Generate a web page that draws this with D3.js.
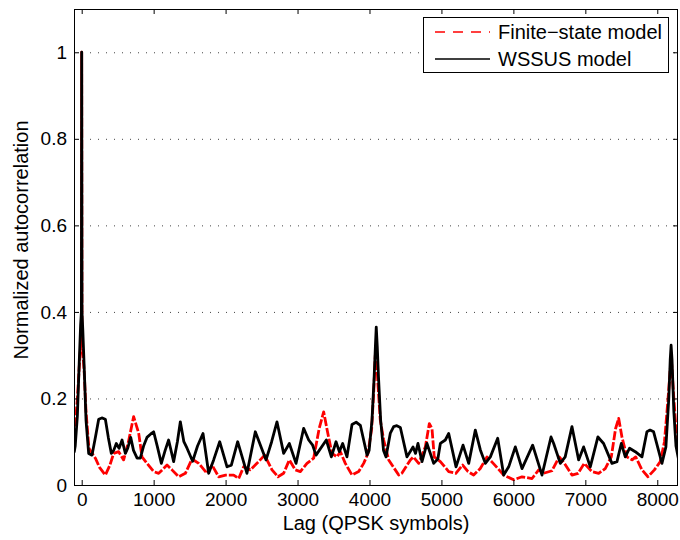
<!DOCTYPE html>
<html>
<head>
<meta charset="utf-8">
<script src="https://cdn.jsdelivr.net/npm/d3@7"></script>
<style>
  html, body { margin: 0; padding: 0; background: #fff; }
  svg { display: block; font-family: "Liberation Sans", Arial, Helvetica, sans-serif; }
</style>
</head>
<body>
<svg id="chart" width="680" height="540"></svg>
<script>
// ---- data ----
const xTicks = [0, 1000, 2000, 3000, 4000, 5000, 6000, 7000, 8000];
const yTicks = [0, 0.2, 0.4, 0.6, 0.8, 1];
const yTickLabels = ["0", "0.2", "0.4", "0.6", "0.8", "1"];
const seriesNames = ["Finite\u2212state model", "WSSUS model"];

const wssusLag = [-105,-90,-60,-35,-15,-4,0,4,15,35,60,97,143,190,236,280,329,370,412,445,481,520,561,607,640,681,720,770,815,860,907,960,1000,1050,1107,1160,1208,1278,1330,1371,1420,1464,1542,1610,1686,1765,1834,1918,2020,2080,2168,2297,2413,2562,2640,2714,2807,2886,2979,3085,3155,3210,3257,3400,3470,3535,3581,3627,3687,3757,3815,3873,3966,3995,4035,4065,4082,4094,4108,4125,4155,4195,4230,4290,4336,4380,4429,4521,4605,4640,4674,4730,4799,4892,4950,4985,5054,5101,5203,5300,5379,5471,5541,5610,5680,5782,5865,5935,6027,6120,6268,6398,6523,6560,6652,6720,6814,6907,6976,7069,7175,7254,7370,7440,7500,7555,7615,7694,7787,7856,7900,7949,8065,8120,8160,8180,8192,8205,8230,8260,8297];
const wssusVal = [0.075,0.09,0.16,0.28,0.37,0.40,1.0,0.40,0.36,0.27,0.15,0.073,0.069,0.11,0.152,0.155,0.152,0.11,0.073,0.08,0.096,0.085,0.104,0.073,0.085,0.11,0.08,0.062,0.062,0.09,0.11,0.118,0.123,0.09,0.05,0.08,0.104,0.054,0.1,0.146,0.1,0.085,0.055,0.09,0.119,0.027,0.058,0.1,0.042,0.046,0.1,0.027,0.123,0.058,0.1,0.146,0.073,0.096,0.05,0.131,0.104,0.092,0.069,0.104,0.065,0.1,0.077,0.096,0.065,0.14,0.145,0.138,0.069,0.08,0.15,0.25,0.32,0.365,0.32,0.25,0.15,0.08,0.065,0.12,0.135,0.137,0.133,0.065,0.088,0.073,0.096,0.054,0.096,0.05,0.06,0.096,0.104,0.119,0.042,0.092,0.05,0.127,0.081,0.05,0.065,0.108,0.023,0.042,0.088,0.038,0.092,0.023,0.111,0.096,0.05,0.065,0.135,0.058,0.088,0.042,0.111,0.096,0.05,0.054,0.096,0.065,0.085,0.077,0.065,0.123,0.127,0.123,0.05,0.088,0.2,0.29,0.323,0.29,0.17,0.09,0.058];

const finiteLag = [-105,-60,-35,-15,-4,0,4,15,35,60,100,190,250,329,390,444,514,583,650,722,792,838,907,1000,1070,1186,1255,1348,1441,1533,1626,1741,1811,1904,2000,2112,2182,2251,2344,2436,2543,2645,2728,2807,2886,2969,3039,3131,3224,3300,3363,3420,3479,3548,3595,3664,3757,3850,3919,3979,4030,4060,4081,4096,4115,4150,4197,4267,4406,4450,4568,4610,4684,4776,4832,4869,4900,4985,5101,5200,5295,5370,5448,5540,5633,5720,5865,6004,6120,6259,6352,6420,6536,6638,6710,6814,6900,6985,7092,7185,7277,7361,7420,7463,7510,7578,7650,7700,7787,7870,7960,8042,8100,8150,8181,8200,8230,8260,8290];
const finiteVal = [0.11,0.2,0.27,0.32,0.33,1.0,0.33,0.31,0.26,0.17,0.085,0.062,0.04,0.023,0.045,0.073,0.077,0.058,0.1,0.158,0.12,0.065,0.05,0.031,0.027,0.046,0.035,0.019,0.027,0.06,0.05,0.027,0.046,0.019,0.023,0.023,0.015,0.042,0.035,0.05,0.069,0.035,0.019,0.027,0.058,0.035,0.031,0.05,0.062,0.13,0.169,0.12,0.073,0.065,0.077,0.05,0.023,0.031,0.05,0.073,0.13,0.22,0.30,0.30,0.24,0.15,0.104,0.058,0.023,0.027,0.058,0.065,0.05,0.088,0.142,0.13,0.065,0.054,0.031,0.027,0.046,0.031,0.023,0.038,0.065,0.05,0.023,0.012,0.019,0.015,0.035,0.027,0.033,0.065,0.05,0.023,0.027,0.05,0.031,0.027,0.038,0.065,0.13,0.154,0.11,0.065,0.058,0.065,0.035,0.019,0.035,0.054,0.1,0.2,0.27,0.28,0.2,0.13,0.09];

// ---- layout ----
const svg = d3.select("#chart");
const L = 74, R = 678, T = 9, B = 485;
const x = d3.scaleLinear().domain([-107, 8288]).range([L, R]);
const y = d3.scaleLinear().domain([0, 1.1]).range([B, T]);

svg.append("defs").append("clipPath").attr("id", "clip")
  .append("rect").attr("x", L).attr("y", T).attr("width", R - L).attr("height", B - T);

// grid (horizontal dotted)
svg.append("g").selectAll("line").data(yTicks.filter(d => d > 0)).join("line")
  .attr("x1", L).attr("x2", R)
  .attr("y1", d => y(d) + 0.5).attr("y2", d => y(d) + 0.5)
  .attr("stroke", "#444").attr("stroke-width", 1).attr("stroke-dasharray", "1,7");

// series
const line = d3.line().x(d => x(d[0])).y(d => y(d[1]));
const finiteData = finiteLag.map((l, i) => [l, finiteVal[i]]);
const wssusData = wssusLag.map((l, i) => [l, wssusVal[i]]);
const plot = svg.append("g").attr("clip-path", "url(#clip)");
plot.append("path").attr("d", line(finiteData))
  .attr("fill", "none").attr("stroke", "#ff0000").attr("stroke-width", 2.8)
  .attr("stroke-dasharray", "9,2").attr("stroke-linejoin", "round");
plot.append("path").attr("d", line(wssusData))
  .attr("fill", "none").attr("stroke", "#000").attr("stroke-width", 2.8)
  .attr("stroke-linejoin", "round");

// axes with inward ticks
const tl = 5;
const xb = svg.append("g").attr("transform", `translate(0,${B})`)
  .call(d3.axisBottom(x).tickValues(xTicks).tickSize(-tl).tickPadding(8).tickFormat(d3.format("d")));
const xt = svg.append("g").attr("transform", `translate(0,${T})`)
  .call(d3.axisTop(x).tickValues(xTicks).tickSize(-tl).tickFormat(""));
const yl = svg.append("g").attr("transform", `translate(${L},0)`)
  .call(d3.axisLeft(y).tickValues(yTicks).tickSize(-tl).tickPadding(7).tickFormat((d, i) => yTickLabels[i]));
const yr = svg.append("g").attr("transform", `translate(${R},0)`)
  .call(d3.axisRight(y).tickValues(yTicks).tickSize(-tl).tickFormat(""));
[xb, xt, yl, yr].forEach(g => {
  g.select(".domain").remove();
  g.selectAll("line").attr("stroke", "#000");
  g.selectAll("text").attr("fill", "#000").style("font-size", "19px")
   .style("font-family", "'Liberation Sans', Arial, sans-serif");
});

// frame
svg.append("rect").attr("x", L + 0.5).attr("y", T + 0.5).attr("width", R - L - 1).attr("height", B - T)
  .attr("fill", "none").attr("stroke", "#000").attr("stroke-width", 1);

// axis titles
svg.append("text").attr("x", 376).attr("y", 530).attr("text-anchor", "middle")
  .style("font-size", "20px").text("Lag (QPSK symbols)");
svg.append("text").attr("transform", `translate(28,240) rotate(-90)`).attr("text-anchor", "middle")
  .style("font-size", "20px").text("Normalized autocorrelation");

// legend
const lg = svg.append("g");
lg.append("rect").attr("x", 423.5).attr("y", 17.5).attr("width", 245).attr("height", 55)
  .attr("fill", "#fff").attr("stroke", "#000").attr("stroke-width", 1);
const legendRows = [
  {name: seriesNames[0], color: "#ff0000", dash: "10,8", yy: 32},
  {name: seriesNames[1], color: "#000", dash: null, yy: 59}
];
legendRows.forEach(r => {
  lg.append("line").attr("x1", 435).attr("x2", 490).attr("y1", r.yy).attr("y2", r.yy)
    .attr("stroke", r.color).attr("stroke-width", 1.6).attr("stroke-dasharray", r.dash);
  lg.append("text").attr("x", 498).attr("y", r.yy + 7).style("font-size", "20px").text(r.name);
});
</script>
</body>
</html>
